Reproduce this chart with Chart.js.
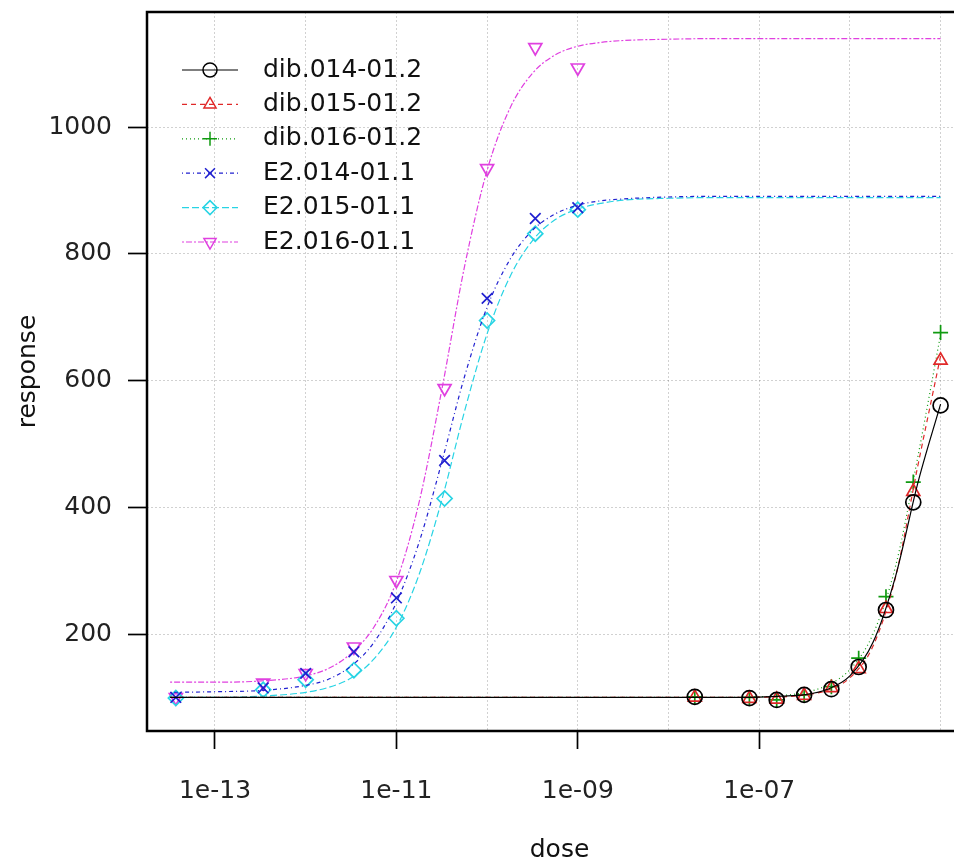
<!DOCTYPE html>
<html><head><meta charset="utf-8">
<script src="https://cdn.jsdelivr.net/npm/chart.js@4/dist/chart.umd.min.js"></script>
<style>
html,body{margin:0;padding:0;background:#fff;overflow:hidden;width:954px;height:864px;}
#wrap{position:absolute;left:0;top:0;width:1000px;height:864px;}
canvas{display:block;}
</style></head><body>
<div id="wrap"><canvas id="c" width="1000" height="864"></canvas></div>
<script>
// ---------- data ----------
const seriesNames = ['dib.014-01.2','dib.015-01.2','dib.016-01.2','E2.014-01.1','E2.015-01.1','E2.016-01.1'];
const xTitle = 'dose';
const yTitle = 'response';

const dibDoses = [1.95e-8, 7.8e-8, 1.56e-7, 3.13e-7, 6.25e-7, 1.25e-6, 2.5e-6, 5e-6, 1e-5];
const e2Doses  = [3.7e-14, 3.4e-13, 1e-12, 3.4e-12, 1e-11, 3.4e-11, 1e-10, 3.4e-10, 1e-9];

const dib014 = [101, 99, 96, 104, 113, 148, 238, 408, 561];
const dib015 = [100, 98, 97, 103, 115, 145, 240, 425, 632];
const dib016 = [101, 100, 96, 104, 117, 162, 259, 440, 676];
const e2014  = [100, 115, 138, 172, 257, 474, 730, 856, 873];
const e2015  = [99, 112, 128, 143, 225, 414, 695, 832, 870];
const e2016  = [100, 123, 138, 180, 285, 588, 935, 1126, 1094];

// fitted curves, read at these doses
const curveDoses = [3.2e-14, 1e-13, 3.2e-13, 1e-12, 1.8e-12, 3.2e-12, 5.6e-12, 1e-11, 1.8e-11, 3.2e-11,
                    5.6e-11, 1e-10, 1.8e-10, 3.2e-10, 5.6e-10, 1e-9, 1.8e-9, 3.2e-9, 1e-8, 3.2e-8,
                    1e-7, 1.8e-7, 3.2e-7, 5.6e-7, 1e-6, 1.8e-6, 3.2e-6, 5.6e-6, 1e-5];
const curveDib014 = [100,100,100,100,100,100,100,100,100,100,100,100,100,100,100,100,100,100,100,100,
                     100.6,102,104.5,112.5,134,187,292,438,563];
const curveDib015 = [100,100,100,100,100,100,100,100,100,100,100,100,100,100,100,100,100,100,100,100,
                     100.5,101,104,111,131,181,291,465,639];
const curveDib016 = [100,100,100,100,100,100,100,100,100,100,100,100,100,100,100,100,100,100,100,100,
                     101,103,108,119,144,200,308,479,673];
const curveE2014  = [108,109,111,119,129,150,186,250,347,474,605,716,792,838,863,877,884,887,890,
                     891,891,891,891,891,891,891,891,891,891];
const curveE2015  = [100,100,102,108,116,131,160,211,296,414,550,674,765,822,854,871,880,885,888,
                     889,889,889,889,889,889,889,889,889,889];
const curveE2016  = [124,124,126,134,146,170,210,283,411,589,778,932,1031,1086,1114,1128,1134,1137,1139,
                     1140,1140,1140,1140,1140,1140,1140,1140,1140,1140];

const yTickValues = [200, 400, 600, 800, 1000];
const xGridValues = [1e-13, 1e-12, 1e-11, 1e-10, 1e-9, 1e-8, 1e-7, 1e-6, 1e-5];
const xTickLabels = ['1e-13', '1e-11', '1e-09', '1e-07'];
const xRange = [1.78e-14, 2.22e-5];
const yRange = [47, 1182];

// ---------- styles ----------
const styles = [
  {color:'#000000', dash:[],           pointStyle:'circle',   rotation:0},
  {color:'#e02828', dash:[5,4],        pointStyle:'triangle', rotation:0},
  {color:'#109a10', dash:[1,3],        pointStyle:'cross',    rotation:0},
  {color:'#2020d0', dash:[1,3,4,3],    pointStyle:'crossRot', rotation:0},
  {color:'#28d4e4', dash:[7,3],        pointStyle:'rectRot',  rotation:0},
  {color:'#e040e0', dash:[2,2,6,2],    pointStyle:'triangle', rotation:180}
];
const FONT = 'DejaVu Sans';

const pointSets = [[dibDoses,dib014],[dibDoses,dib015],[dibDoses,dib016],[e2Doses,e2014],[e2Doses,e2015],[e2Doses,e2016]];
const curveSets = [curveDib014, curveDib015, curveDib016, curveE2014, curveE2015, curveE2016];

const datasets = [];
seriesNames.forEach((name, i) => {
  const st = styles[i];
  datasets.push({
    label: name + ' fit',
    data: curveDoses.map((d, k) => ({x: d, y: curveSets[i][k]})),
    showLine: true, pointRadius: 0, borderColor: st.color, borderWidth: 1.2,
    borderDash: st.dash, cubicInterpolationMode: 'monotone', fill: false
  });
  datasets.push({
    label: name,
    data: pointSets[i][0].map((d, k) => ({x: d, y: pointSets[i][1][k]})),
    showLine: false, pointStyle: st.pointStyle, rotation: st.rotation,
    pointRadius: 7.5, pointBorderWidth: 1.7, borderColor: st.color,
    backgroundColor: 'rgba(0,0,0,0)', pointBackgroundColor: 'rgba(0,0,0,0)'
  });
});

function expLabel(v){
  const e = Math.round(Math.log10(v));
  const a = Math.abs(e);
  return '1e' + (e < 0 ? '-' : '+') + (a < 10 ? '0' : '') + a;
}

const decor = {
  id: 'decor',
  afterDraw(chart){
    const ctx = chart.ctx, a = chart.chartArea;
    ctx.save();
    ctx.setLineDash([]);
    ctx.strokeStyle = '#000'; ctx.lineWidth = 2.5;
    ctx.strokeRect(a.left, a.top, a.right - a.left, a.bottom - a.top);
    ctx.fillStyle = '#111';
    ctx.font = '25px "' + FONT + '"';
    ctx.textAlign = 'center'; ctx.textBaseline = 'middle';
    ctx.fillText(xTitle, (a.left + a.right) / 2, 850);
    ctx.translate(28, (a.top + a.bottom) / 2);
    ctx.rotate(-Math.PI / 2);
    ctx.fillText(yTitle, 0, 0);
    ctx.restore();

    seriesNames.forEach((name, i) => {
      const st = styles[i];
      const y = 70 + i * 34.4;
      ctx.save();
      ctx.strokeStyle = st.color; ctx.lineWidth = 1.2; ctx.setLineDash(st.dash);
      ctx.beginPath(); ctx.moveTo(182, y); ctx.lineTo(238, y); ctx.stroke();
      ctx.setLineDash([]); ctx.lineWidth = 1.5; ctx.fillStyle = 'rgba(0,0,0,0)';
      Chart.helpers.drawPoint(ctx, {pointStyle: st.pointStyle, rotation: st.rotation, radius: 7, borderWidth: 1.5}, 210, y);
      ctx.fillStyle = '#111';
      ctx.font = '25px "' + FONT + '"';
      ctx.textAlign = 'left'; ctx.textBaseline = 'middle';
      ctx.fillText(name, 263, y);
      ctx.restore();
    });
  }
};

const gridColor = 'rgba(0,0,0,0.18)';

new Chart(document.getElementById('c'), {
  type: 'scatter',
  data: {datasets},
  options: {
    responsive: false, animation: false, devicePixelRatio: 1,
    layout: {padding: {top: 12, right: 28, left: 0, bottom: 0}},
    plugins: {legend: {display: false}, tooltip: {enabled: false}},
    scales: {
      x: {
        type: 'logarithmic', min: xRange[0], max: xRange[1],
        afterBuildTicks: s => { s.ticks = xGridValues.map(v => ({value: v})); },
        afterFit: s => { s.height = 133; s.paddingLeft = 0; s.paddingRight = 0; },
        ticks: {
          autoSkip: false, maxRotation: 0, minRotation: 0, padding: 27,
          color: '#222', font: {family: FONT, size: 25},
          callback: v => { const s = expLabel(v); return xTickLabels.includes(s) ? s : ''; }
        },
        grid: {
          color: gridColor, lineWidth: 1, drawTicks: true, tickLength: 18, tickWidth: 1.7,
          tickColor: c => (c.tick && xTickLabels.includes(expLabel(c.tick.value))) ? '#000' : 'rgba(0,0,0,0)',
          tickBorderDash: []
        },
        border: {display: false, dash: [2, 2]}
      },
      y: {
        type: 'linear', min: yRange[0], max: yRange[1],
        afterBuildTicks: s => { s.ticks = yTickValues.map(v => ({value: v})); },
        afterFit: s => { s.width = 147; s.paddingTop = 0; s.paddingBottom = 0; },
        ticks: {padding: 16, color: '#222', font: {family: FONT, size: 25}, callback: v => String(v)},
        grid: {color: gridColor, lineWidth: 1, drawTicks: true, tickLength: 19, tickWidth: 1.7,
               tickColor: '#000', tickBorderDash: []},
        border: {display: false, dash: [2, 2]}
      }
    }
  },
  plugins: [decor]
});
</script>
</body></html>
